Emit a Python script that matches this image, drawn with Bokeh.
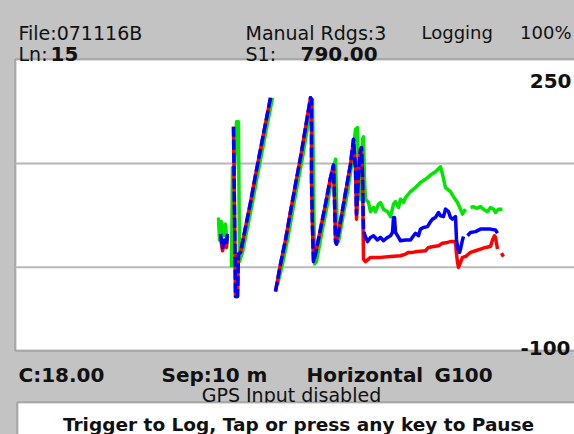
import numpy as np
from bokeh.plotting import figure
from bokeh.models import Range1d, Label, BoxAnnotation
from bokeh.embed import file_html
from bokeh.resources import INLINE

nan = float("nan")

# ---- data (station, reading) ----
blue_x = [206, 208, 210, 212, 213, nan,
          219, 221, 223, 224, 226, 231, 236, 241, 246, 251, 256, nan,
          261, 266, 271, 276, 281, 286, 291, 296, 297, 297, 298, 299, 301, 306, 311, 316, 319, 320, 321, 322,
          326, 331, 336, 339, 341, 342, 344, 346, 347, 348, 349, 350,
          353, 356, 359, 363, 366, 369, 373, 376, 378, 379, 380, 381, 384, 386, 391, 396, 399, 401, 404, 406,
          409, 413, 416, 418, 421, 424, 426, 429, 431, 434, 436, 438, 441, 442, 443, 445, 446, 448, 449, nan,
          453, 456, 461, 466, 471, 476, 481, 483]
blue_y = [40, 24, 33, 28, 43, nan,
          169, -35, -35, 16, 18, 48, 78, 111, 142, 173, 204, nan,
          -29, 4, 33, 67, 100, 132, 168, 204, 202, 106, 46, 7, 16, 46, 76, 108, 123, 82, 31, 28,
          55, 90, 124, 154, 118, 64, 112, 142, 144, 112, 46, 40,
          31, 36, 38, 33, 36, 32, 36, 38, 42, 60, 60, 42, 36, 32, 33, 33, 38, 41, 38, 46,
          48, 49, 55, 58, 60, 66, 62, 61, 70, 67, 60, 58, 61, 33, 25, 18, 22, 33, 37, nan,
          38, 42, 43, 46, 46, 46, 45, 41]

red_x = [206, 208, 210, 212, 213, nan,
         219, 221, 223, 224, 226, 231, 236, 241, 246, 251, 256, nan,
         261, 266, 271, 276, 281, 286, 291, 296, 297, 297, 298, 299, 301, 306, 311, 316, 319, 320, 321, 322,
         326, 331, 336, 339, 341, 342, 344, 346, 347, 348, 349,
         351, 356, 361, 366, 376, 386, 391, 394, 398, 403, 411, 414, 419, 424, 428, 433, 436, 441, 442, 443, 444,
         446, 448, 451, 456, 461, 466, 471, 476, 478, 480, 481, 483, nan, 487, 489]
red_y = [36, 20, 28, 24, 38, nan,
         169, -35, -35, 16, 18, 48, 78, 111, 142, 173, 204, nan,
         -29, 4, 33, 67, 100, 132, 168, 204, 202, 106, 46, 7, 16, 46, 76, 108, 123, 82, 31, 28,
         55, 90, 124, 154, 118, 58, 112, 142, 144, 112, 10,
         7, 12, 12, 12, 13, 14, 16, 18, 18, 19, 20, 24, 25, 26, 29, 30, 31, 31, 16, 6, 0,
         6, 12, 13, 18, 20, 22, 24, 25, 33, 38, 36, 22, nan, 17, 13]

green_x = [204, 205, 207, 209, 211, 212, nan,
           217, 218, 220, 222, 224, 225, 228, 233, 238, 243, 248, 253, 258, nan,
           263, 268, 273, 278, 283, 288, 293, 298, 299, 300, 302, 308, 313, 318, 321, 323, 324,
           328, 333, 338, 341, 343, 344, 346, 348, 349, 350, 351,
           354, 356, 359, 361, 364, 366, 369, 373, 376, 379, 381, 384, 386, 389, 391, 396, 401, 406, 411, 416,
           421, 426, 428, 431, 436, 439, 443, 446, 448, 451, nan,
           456, 459, 462, 466, 470, 473, 476, 479, 481, 484, 488]
green_y = [60, 33, 55, 38, 52, 36, nan,
           0, 120, 118, 175, 175, 7, 18, 48, 78, 111, 142, 173, 204, nan,
           -21, 4, 33, 67, 100, 132, 168, 202, 106, 4, 7, 46, 76, 112, 130, 33, 31,
           58, 90, 130, 166, 168, 106, 82, 154, 157, 106, 82,
           78, 67, 72, 67, 76, 78, 70, 67, 61, 76, 79, 72, 82, 78, 84, 91, 96, 102, 106, 111,
           115, 121, 112, 96, 91, 85, 78, 70, 64, 70, nan,
           72, 73, 71, 73, 69, 67, 72, 70, 66, 70, 70]

grid_levels = [0, 125]
y_top, y_bottom = 250, -100
x_start, x_end = 1, 560

# ---- layout (canvas px) ----
W, H = 574, 434
BOX_LEFT, BOX_TOP, BOX_BOTTOM = 15, 59, 350      # white chart box on the canvas
BG = "#c3c3c3"
upp = (y_top - y_bottom) / (BOX_BOTTOM - BOX_TOP)  # data units per pixel (y)
xpp = (x_end - x_start) / (W - BOX_LEFT)           # data units per pixel (x)

p = figure(width=W, height=H, output_backend="svg", toolbar_location=None,
           x_range=Range1d(x_start - BOX_LEFT * xpp, x_end),
           y_range=Range1d(y_bottom - (H - BOX_BOTTOM) * upp, y_top + BOX_TOP * upp),
           min_border=0, background_fill_color=BG, border_fill_color=BG,
           outline_line_color=None)
p.xaxis.visible = False
p.yaxis.visible = False
p.xgrid.visible = False
p.ygrid.visible = False

# white chart box
p.add_layout(BoxAnnotation(left=x_start, right=x_end + 20, top=y_top, bottom=y_bottom,
                           fill_color="white", fill_alpha=1, line_color="#262626", line_width=2,
                           level="image"))
# grid lines
p.segment(x0=[x_start] * len(grid_levels), x1=[x_end] * len(grid_levels),
          y0=grid_levels, y1=grid_levels, line_color="#b8b8b8", line_width=2)

bx = np.array(blue_x, dtype=float); by = np.array(blue_y, dtype=float)
split = int(np.argmax(bx > 350))
p.line(green_x, green_y, line_color="#00e600", line_width=3.5, line_join="round")
p.line(red_x, red_y, line_color="#ff0000", line_width=3.5, line_join="round")
p.line(bx[:split], by[:split], line_color="#0000ff", line_width=3.5, line_join="round", line_dash="10 3")
p.line(bx[split - 1:], by[split - 1:], line_color="#0000ff", line_width=3.5, line_join="round")


def lab(text, cx, cy, size, bold=False, align="left"):
    # cx, cy: canvas coords from top-left; frame == canvas here
    p.add_layout(Label(x=cx, y=H - cy, x_units="screen", y_units="screen",
                       text=text, text_font="DejaVu Sans", text_font_size=f"{size}px",
                       text_font_style="bold" if bold else "normal",
                       text_color="#111111", text_align=align, text_baseline="alphabetic"))


lab("File:071116B", 18, 32, 19)
lab("Manual  Rdgs:3", 245, 32, 19)
lab("Logging", 421, 32, 18)
lab("100%", 571, 32, 18, align="right")
lab("Ln:", 18, 53, 19)
lab("15", 50, 53, 20, bold=True)
lab("S1:", 245, 53, 19)
lab("790.00", 300, 53, 20, bold=True)
lab(str(y_top), 571, 80, 20, bold=True, align="right")
lab(str(y_bottom), 570, 347, 20, bold=True, align="right")
lab("C:18.00", 18, 374, 20, bold=True)
lab("Sep:10 m", 161, 374, 20, bold=True)
lab("Horizontal", 306, 374, 20, bold=True)
lab("G100", 434, 374, 20, bold=True)
lab("GPS  Input  disabled", 297, 394, 19, align="center")

# footer message box
p.add_layout(BoxAnnotation(left=17, right=W + 20, top=H - 402, bottom=-20,
                           left_units="screen", right_units="screen", top_units="screen", bottom_units="screen",
                           fill_color="white", fill_alpha=1, line_color="#262626", line_width=2))
lab("Trigger to Log, Tap or press any key to Pause", 298, 424, 18.5, bold=True, align="center")

html = file_html(p, INLINE)
html = html.replace("</head>", "<style>html,body{background:%s;overflow:hidden}</style></head>" % BG, 1)
open("out.html", "w").write(html)
